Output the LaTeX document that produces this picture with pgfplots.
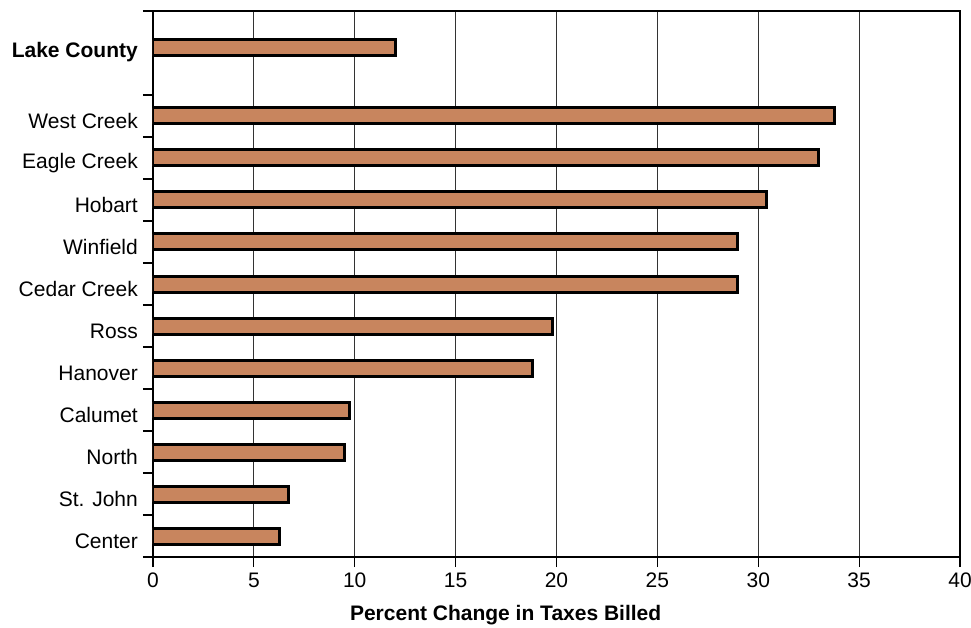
\documentclass[border=0pt]{standalone}
\usepackage{fontspec}
\setmainfont{Liberation Sans}
\usepackage{pgfplots}
\pgfplotsset{compat=1.18}
\definecolor{barfill}{RGB}{200,133,94}
\begin{document}
\begin{tikzpicture}
\useasboundingbox (-153pt,-70pt) rectangle (818pt,557pt);
\begin{axis}[
  at={(0,0)}, anchor=south west,
  scale only axis, width=807pt, height=546pt,
  xmin=0, xmax=40, ymin=-0.5, ymax=12.5,
  xbar, bar width=16pt,
  font=\fontsize{21}{25}\selectfont,
  /pgf/number format/assume math mode=true,
  xtick={0,5,10,15,20,25,30,35,40},
  ytick={0,1,2,3,4,5,6,7,8,9,10,11.63},
  yticklabels={Center,St. John,North,Calumet,Hanover,Ross,Cedar Creek,Winfield,Hobart,Eagle Creek,West Creek,\textbf{Lake County}},
  minor ytick={-0.5,0.5,1.5,2.5,3.5,4.5,5.5,6.5,7.5,8.5,9.5,10.5,12.5},
  ytick style={draw=none},
  minor y tick style={draw=black, line width=1.2pt},
  xtick style={draw=black, line width=1.2pt},
  tick align=outside,
  major tick length=10pt, minor tick length=10pt,
  xtick pos=bottom, ytick pos=left,
  yticklabel style={inner sep=0pt, xshift=-5pt, yshift=-5pt},
  xticklabel style={inner sep=0pt, yshift=-6pt},
  xmajorgrids,
  major grid style={draw=black!80, line width=1.2pt},
  axis line style={line width=1.2pt},
  xlabel={\textbf{Percent Change in Taxes Billed}},
  xlabel style={at={(axis description cs:0.437,0)}, anchor=base, yshift=-63pt},
]
\addplot[draw=black, line width=3pt, fill=barfill] coordinates {
  (6.25,0) (6.7,1) (9.47,2) (9.76,3) (18.8,4) (19.82,5) (28.95,6) (28.95,7) (30.4,8) (33.0,9) (33.8,10) (12.0,11.63)
};
\draw[line width=2pt] (rel axis cs:1,0) -- (rel axis cs:1,1);
\end{axis}
\end{tikzpicture}
\end{document}
